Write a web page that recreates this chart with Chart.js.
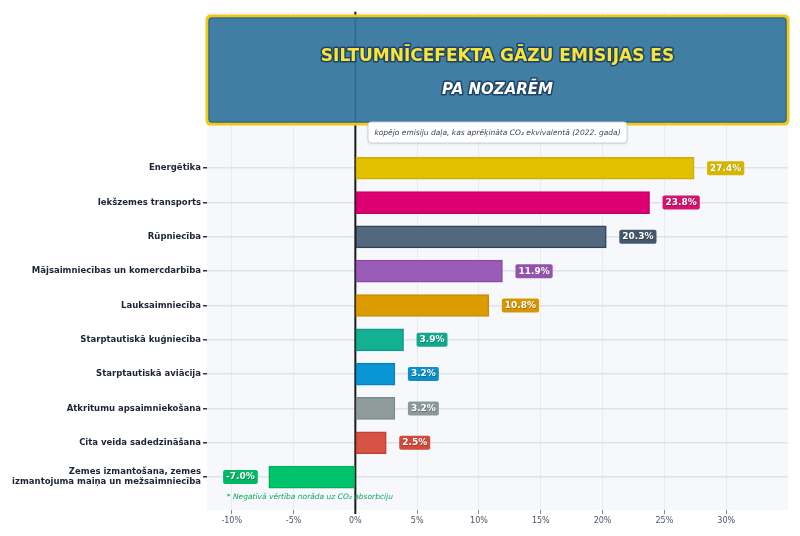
<!DOCTYPE html>
<html><head><meta charset="utf-8">
<script src="https://cdn.jsdelivr.net/npm/chart.js@4.4.1/dist/chart.umd.min.js"></script>
<style>html,body{margin:0;padding:0;background:#fff;}</style>
</head><body>
<canvas id="c" width="800" height="536"></canvas>
<script>
const categories = [
  'Energētika',
  'Iekšzemes transports',
  'Rūpniecība',
  'Mājsaimniecības un komercdarbība',
  'Lauksaimniecība',
  'Starptautiskā kuģniecība',
  'Starptautiskā aviācija',
  'Atkritumu apsaimniekošana',
  'Cita veida sadedzināšana',
  ['Zemes izmantošana, zemes', 'izmantojuma maiņa un mežsaimniecība']
];
const values = [27.4, 23.8, 20.3, 11.9, 10.8, 3.9, 3.2, 3.2, 2.5, -7.0];
const barColors = ['#e2c000', '#dc0073', '#53687e', '#9b5cb8', '#dc9c00', '#13b094', '#0a95d4', '#8f9c9c', '#d55443', '#00c36b'];
const borderColors = ['#cfae00', '#c40066', '#2f4257', '#8a4aa6', '#c88c00', '#0e9a81', '#0683bd', '#7d8a8a', '#c2402f', '#00ad5e'];
const labelColors = ['#d6b600', '#d4136f', '#45586b', '#9352ae', '#d69600', '#12a88c', '#0a8fcc', '#8b9898', '#cf4c3b', '#00b866'];
const xTickValues = [-10, -5, 0, 5, 10, 15, 20, 25, 30];
const titleText = 'SILTUMNĪCEFEKTA GĀZU EMISIJAS ES';
const subtitleText = 'PA NOZARĒM';
const noteText = 'kopējo emisiju daļa, kas aprēķināta CO₂ ekvivalentā (2022. gada)';
const footnoteText = '* Negatīvā vērtība norāda uz CO₂ absorbciju';

const FONT = '"DejaVu Sans", sans-serif';

function roundRect(ctx, x, y, w, h, r) {
  ctx.beginPath();
  ctx.moveTo(x + r, y);
  ctx.lineTo(x + w - r, y);
  ctx.quadraticCurveTo(x + w, y, x + w, y + r);
  ctx.lineTo(x + w, y + h - r);
  ctx.quadraticCurveTo(x + w, y + h, x + w - r, y + h);
  ctx.lineTo(x + r, y + h);
  ctx.quadraticCurveTo(x, y + h, x, y + h - r);
  ctx.lineTo(x, y + r);
  ctx.quadraticCurveTo(x, y, x + r, y);
  ctx.closePath();
}

const decor = {
  id: 'decor',
  beforeDraw(chart) {
    const {ctx, chartArea: a} = chart;
    ctx.save();
    ctx.fillStyle = '#f6f8fb';
    ctx.fillRect(a.left, a.top, a.right - a.left, a.bottom - a.top);
    ctx.restore();
  },
  beforeDatasetsDraw(chart) {
    const {ctx, chartArea: a, scales} = chart;
    const x0 = scales.x.getPixelForValue(0);
    ctx.save();
    ctx.strokeStyle = '#1a1a1a';
    ctx.lineWidth = 2;
    ctx.beginPath();
    ctx.moveTo(x0, a.top);
    ctx.lineTo(x0, a.bottom + 4);
    ctx.stroke();
    ctx.restore();
  },
  afterDatasetsDraw(chart) {
    const {ctx} = chart;
    const meta = chart.getDatasetMeta(0);
    ctx.save();
    ctx.font = 'bold 9px ' + FONT;
    ctx.textBaseline = 'middle';
    ctx.textAlign = 'center';
    meta.data.forEach((bar, i) => {
      const v = values[i];
      const txt = v.toFixed(1) + '%';
      const w = ctx.measureText(txt).width + 6;
      const h = 14;
      const bx = v >= 0 ? bar.x + 13 : bar.x - 11 - w;
      const by = bar.y - h / 2;
      ctx.fillStyle = labelColors[i];
      roundRect(ctx, bx, by, w, h, 2);
      ctx.fill();
      ctx.fillStyle = 'rgba(0,0,0,0.25)';
      ctx.fillText(txt, bx + w / 2 + 0.6, bar.y + 0.8);
      ctx.fillStyle = '#ffffff';
      ctx.fillText(txt, bx + w / 2, bar.y);
    });
    // footnote
    const x0 = chart.scales.x.getPixelForValue(-10.4);
    ctx.font = 'italic 7.5px ' + FONT;
    ctx.textAlign = 'left';
    ctx.fillStyle = '#0aa85a';
    ctx.fillText(footnoteText, x0, chart.scales.y.getPixelForValue(9.58));
    ctx.restore();
  },
  afterDraw(chart) {
    const {ctx, chartArea: a} = chart;
    ctx.save();
    // title box
    const tx = a.left, ty = 16, tw = a.right - a.left, th = 108;
    ctx.fillStyle = 'rgba(50,117,156,0.93)';
    roundRect(ctx, tx, ty, tw, th, 4);
    ctx.fill();
    ctx.lineWidth = 3;
    ctx.strokeStyle = '#f2c811';
    ctx.stroke();
    ctx.lineWidth = 1;
    ctx.strokeStyle = '#24618d';
    roundRect(ctx, tx + 2, ty + 2, tw - 4, th - 4, 3);
    ctx.stroke();
    const cx = tx + tw / 2;
    ctx.textAlign = 'center';
    ctx.textBaseline = 'middle';
    ctx.font = 'bold 17px ' + FONT;
    ctx.lineJoin = 'round';
    ctx.lineWidth = 3;
    ctx.strokeStyle = '#1d4468';
    ctx.strokeText(titleText, cx, 57);
    ctx.fillStyle = '#f9e43b';
    ctx.fillText(titleText, cx, 57);
    ctx.font = 'italic bold 15px ' + FONT;
    ctx.lineWidth = 3;
    ctx.strokeStyle = '#1d4468';
    ctx.strokeText(subtitleText, cx, 90);
    ctx.fillStyle = '#ffffff';
    ctx.fillText(subtitleText, cx, 90);
    // note box
    ctx.shadowColor = 'rgba(0,0,0,0.12)';
    ctx.shadowBlur = 3;
    ctx.shadowOffsetY = 1;
    ctx.fillStyle = '#ffffff';
    roundRect(ctx, 368, 122, 259, 21, 3);
    ctx.fill();
    ctx.shadowColor = 'transparent';
    ctx.lineWidth = 1;
    ctx.strokeStyle = '#c9ced6';
    ctx.stroke();
    ctx.font = 'italic 7.5px ' + FONT;
    ctx.fillStyle = '#3a4555';
    ctx.fillText(noteText, 497.5, 133);
    ctx.restore();
  }
};

new Chart(document.getElementById('c'), {
  type: 'bar',
  data: {
    datasets: [{
      data: values.map((v, i) => ({x: v, y: i})),
      backgroundColor: barColors,
      borderColor: borderColors,
      borderWidth: 1.5,
      borderSkipped: false,
      barThickness: 22
    }]
  },
  options: {
    indexAxis: 'y',
    responsive: false,
    animation: false,
    devicePixelRatio: 1,
    layout: {padding: {top: 10, right: 12, left: 0, bottom: 0}},
    plugins: {legend: {display: false}, tooltip: {enabled: false}},
    scales: {
      x: {
        type: 'linear',
        min: -12,
        max: 35,
        afterBuildTicks: s => { s.ticks = xTickValues.map(v => ({value: v})); },
        afterFit: s => { s.height = 26; },
        ticks: {
          callback: v => v + '%',
          font: {family: FONT, size: 8},
          color: '#4a5568',
          padding: 2
        },
        grid: {color: '#e8ebf0', lineWidth: 1, tickLength: 4, tickColor: '#888'},
        border: {display: false}
      },
      y: {
        type: 'linear',
        reverse: true,
        offset: false,
        min: -4.56,
        max: 9.96,
        afterBuildTicks: s => { s.ticks = categories.map((c, i) => ({value: i})); },
        afterFit: s => { s.width = 207; },
        ticks: {
          callback: v => categories[v],
          font: {family: FONT, size: 8.5, weight: 'bold', lineHeight: 1.15},
          color: '#1b2335',
          padding: 2,
          autoSkip: false
        },
        grid: {offset: false, color: '#dfe2e8', lineWidth: 1.5, tickLength: 4, tickColor: '#333'},
        border: {display: false}
      }
    }
  },
  plugins: [decor]
});
</script>
</body></html>
